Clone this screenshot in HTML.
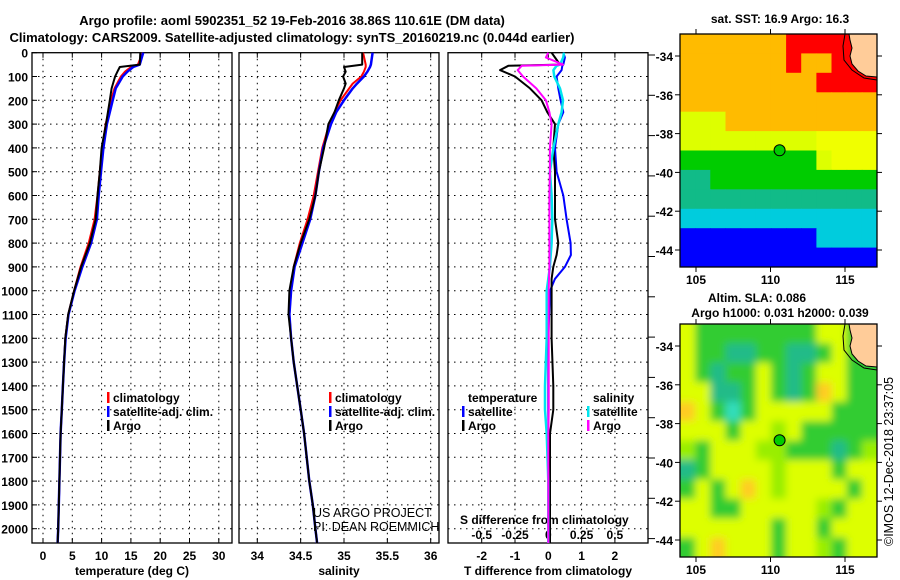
<!DOCTYPE html>
<html><head><meta charset="utf-8"><style>
html,body{margin:0;padding:0;background:#fff;}
svg{display:block;font-family:"Liberation Sans",sans-serif;}
.b{font-weight:bold;font-size:12px;}
.t{font-weight:bold;font-size:13px;}
</style></head><body>
<svg id="s" width="900" height="580" viewBox="0 0 900 580" xmlns="http://www.w3.org/2000/svg">
<text x="292" y="25" text-anchor="middle" class="t">Argo profile: aoml 5902351_52 19-Feb-2016 38.86S 110.61E (DM data)</text>
<text x="292" y="42" text-anchor="middle" class="t">Climatology: CARS2009. Satellite-adjusted climatology: synTS_20160219.nc (0.044d earlier)</text>
<g id="g"></g>
</svg>
<script>
// ---- data ----
const tDepth=[0,50,60,80,100,150,200,300,400,500,600,700,800,900,1000,1100,1200,1300,1400,1500,1600,1700,1800,1900,2000,2060];
const tArgo=[16.6,16.5,13.1,12.7,12.3,11.7,11.4,10.75,10.0,9.7,9.3,9.0,8.0,6.5,5.3,4.3,3.8,3.6,3.4,3.2,3.0,2.9,2.8,2.7,2.6,2.5];
const tClim=[17.0,16.2,15.0,14.0,13.3,12.2,11.6,10.7,10.1,9.7,9.3,8.8,7.8,6.4,5.3,4.3,3.8,3.6,3.4,3.2,3.0,2.9,2.8,2.7,2.6,2.5];
const tSat=[17.1,16.5,15.4,14.4,13.6,12.4,11.9,10.9,10.3,9.9,9.5,9.2,8.2,6.7,5.4,4.35,3.85,3.6,3.4,3.2,3.0,2.9,2.8,2.7,2.6,2.5];
const sDepth=[0,50,60,80,100,130,150,200,250,300,400,500,600,700,800,900,1000,1100,1200,1300,1400,1500,1600,1700,1800,1900,2000,2060];
const sArgo=[35.21,35.21,35.0,35.02,34.99,35.02,35.0,34.94,34.89,34.82,34.77,34.71,34.67,34.60,34.50,34.42,34.37,34.36,34.39,34.42,34.46,34.50,34.54,34.57,34.60,34.64,34.67,34.69];
const sClim=[35.22,35.25,35.25,35.23,35.2,35.1,35.06,34.96,34.89,34.83,34.75,34.70,34.65,34.58,34.49,34.42,34.39,34.37,34.39,34.42,34.46,34.50,34.54,34.57,34.60,34.64,34.67,34.69];
const sSat=[35.33,35.31,35.30,35.27,35.23,35.15,35.10,35.0,34.91,34.85,34.76,34.71,34.67,34.61,34.52,34.43,34.39,34.37,34.39,34.42,34.46,34.50,34.54,34.57,34.60,34.64,34.67,34.69];
const dDepth=[0,20,50,55,73,100,150,200,250,300,400,500,600,700,800,850,900,950,1000,1200,1400,1500,1600,1800,2060];
const dTArgo=[0.1,0.2,0.35,-1.2,-1.45,-1.0,-0.55,-0.2,-0.03,0.2,0.15,0.2,0.2,0.2,0.3,0.25,0.15,0.1,0.1,0.1,0.15,0.15,0.05,0.05,0.05];
const dTSat=[0.45,0.5,0.45,0.42,0.4,0.25,0.3,0.37,0.45,0.3,0.2,0.25,0.45,0.55,0.67,0.68,0.5,0.2,0.05,0.0,0.0,0.0,0.0,0.0,0.0];
const dSArgo=[0,-0.018,0.11,-0.2,-0.23,-0.19,-0.09,-0.018,0.008,0.025,0.012,0.012,0.008,0.008,0.008,0.008,0.008,0.005,0.003,0.003,0.003,0.003,0.0,0.0,0.0];
const dSSat=[0.118,0.112,0.088,0.062,0.038,0.045,0.088,0.11,0.1,0.075,0.038,0.012,0.025,0.03,0.025,0.018,0.012,0,-0.012,-0.012,-0.025,-0.025,-0.012,0,0];
const depthTicks=[0,100,200,300,400,500,600,700,800,900,1000,1100,1200,1300,1400,1500,1600,1700,1800,1900,2000];
const tTicks=[0,5,10,15,20,25,30];
const sTicks=[34,34.5,35,35.5,36];
const dTicks=[-2,-1,0,1,2];
const dSTicks=[-0.5,-0.25,0,0.25,0.5];
const dSTickLabels=["-0.5","-0.25","0","0.25","0.5"];
const lonTicks=[105,110,115];
const latTicks=[-34,-36,-38,-40,-42,-44];
const sstRows=["OOOOOOORRRRRL","OOOOOOOROORRL","OOOOOOOOORRRR","OOOOOOOOOOOOO","YYYOOOOOOOOOO","YYYYYYYYYyyyy","GGGGGGGGGYyyy","TTGGGGGGGGGGG","TTTTTTTTTTTTT","CCCCCCCCCCCCC","BBBBBBBBBCCCC","BBBBBBBBBBBBB"];
const slaRows=["YGGGGGGGGYYGG","YGGTTGGTTGYGG","YGTGGYGTGYYGG","YYTTGYGTGOYGG","OYGCGYYYYYGGG","YYYGYYlYGGGGG","lGYYYllGGGTGl","TGYYYYlYYYGYY","GYGYOYlYYYYGY","YYGGYYYYYlGYY","YYYYYYGYYGYYY","GYOYYYGYYlGYY"];
const argoLon=110.61, argoLat=-38.86;

const NS="http://www.w3.org/2000/svg", G=document.getElementById('g');
function el(tag,attrs,parent,txt){const e=document.createElementNS(NS,tag);for(const k in attrs)e.setAttribute(k,attrs[k]);if(txt!=null)e.textContent=txt;(parent||G).appendChild(e);return e;}
const yD=d=>52.7+d*0.238;
const PT=52.7, PB=543;
const panels=[
 {x0:32,x1:232,f:v=>43+v*5.86,ticks:tTicks,labels:tTicks.map(String),name:'temperature-panel',xl:'temperature (deg C)'},
 {x0:239,x1:439,f:v=>257.3+(v-34)*86.7,ticks:sTicks,labels:sTicks.map(String),name:'salinity-panel',xl:'salinity'},
 {x0:448,x1:648,f:v=>548.3+v*33.3,ticks:dTicks,labels:dTicks.map(String),name:'difference-panel',xl:'T difference from climatology'}];
panels.forEach((p,pi)=>{
  const g=el('g',{});
  
  
  depthTicks.forEach(d=>{if(d>0){const l=el('line',{x1:p.x0,x2:p.x1,y1:yD(d),y2:yD(d),stroke:'#000','stroke-width':1,'stroke-dasharray':'1.5,4.5'},g);}});
  p.ticks.forEach((v,i)=>{const x=p.f(v);
    const l=el('line',{x1:x,x2:x,y1:PT,y2:PB,stroke:'#000','stroke-width':1,'stroke-dasharray':'1.5,4.5'},g);
    el('line',{x1:x,x2:x,y1:PT,y2:PT+5,stroke:'#000'},g);el('line',{x1:x,x2:x,y1:PB,y2:PB-5,stroke:'#000'},g);
    const t=el('text',{x:x,y:PB+17,'text-anchor':'middle',class:'b'},g,p.labels[i]);});
  const fr=el('rect',{x:p.x0,y:PT,width:p.x1-p.x0,height:PB-PT,fill:'none',stroke:'#000','stroke-width':1.3},g);
  
  const xt=el('text',{x:(p.x0+p.x1)/2,y:575,'text-anchor':'middle',class:'b'},g,p.xl);
  
});
depthTicks.forEach(d=>{const t=el('text',{x:28,y:yD(d)+5,'text-anchor':'end',class:'b'},G,String(d));
  el('line',{x1:32,x2:37,y1:yD(d),y2:yD(d),stroke:'#000'});});
for(let i=0;i<13;i++){const y=55+i*40.3;el('line',{x1:648,x2:655,y1:y,y2:y,stroke:'#000'});}
dSTicks.forEach((v,i)=>{const t=el('text',{x:548.3+v*4*33.3,y:539,'text-anchor':'middle',class:'b'},G,dSTickLabels[i]);});
{const t=el('text',{x:460,y:524,class:'b'},G,'S difference from climatology');}
function line(depths,vals,f,color,name,w){const pts=depths.map((d,i)=>f(vals[i]).toFixed(1)+','+yD(d).toFixed(1)).join(' ');
  const l=el('polyline',{points:pts,fill:'none',stroke:color,'stroke-width':w||2,'stroke-linejoin':'round'});}
const P=panels;
line(tDepth,tClim,P[0].f,'#ff0000','temperature-climatology-line',2);
line(tDepth,tSat,P[0].f,'#0000ff','temperature-satellite-line',2.5);
line(tDepth,tArgo,P[0].f,'#000','temperature-argo-line',2);
line(sDepth,sClim,P[1].f,'#ff0000','salinity-climatology-line',2);
line(sDepth,sSat,P[1].f,'#0000ff','salinity-satellite-line',2.5);
line(sDepth,sArgo,P[1].f,'#000','salinity-argo-line',2);
line(dDepth,dTSat,P[2].f,'#0000ff','t-diff-satellite-line',2);
line(dDepth,dTArgo,P[2].f,'#000','t-diff-argo-line',2);
line(dDepth,dSSat,v=>P[2].f(v*4),'#00e5ee','s-diff-satellite-line',2.5);
line(dDepth,dSArgo,v=>P[2].f(v*4),'#ff00ff','s-diff-argo-line',2);
function leg(x,y,color,txt,name){const g=el('g',{});
  if(color)el('rect',{x:x-6,y:y-10,width:2.5,height:11,fill:color},g);el('text',{x:x,y:y,class:'b'},g,txt);}
leg(113,402,'#ff0000','climatology','legend-climatology');leg(113,416,'#0000ff','satellite-adj. clim.','legend-satellite-adj');leg(113,430,'#000','Argo','legend-argo');
leg(335,402,'#ff0000','climatology','legend-climatology-2');leg(335,416,'#0000ff','satellite-adj. clim.','legend-satellite-adj-2');leg(335,430,'#000','Argo','legend-argo-2');
leg(468,402,null,'temperature','legend-temperature-header');leg(468,416,'#0000ff','satellite','legend-t-satellite');leg(468,430,'#000','Argo','legend-t-argo');
leg(593,402,null,'salinity','legend-salinity-header');leg(593,416,'#00e5ee','satellite','legend-s-satellite');leg(593,430,'#ff00ff','Argo','legend-s-argo');
{const t=el('text',{x:313,y:517,'font-size':'12.5'},G,'US ARGO PROJECT');
 const t2=el('text',{x:313,y:531,'font-size':'12.5'},G,'PI: DEAN ROEMMICH');}
// ---- maps ----
const defs=el('defs',{});
const sstPal={O:'#ffbb00',R:'#ff0000',Y:'#ddff00',y:'#f0ff00',G:'#00cc00',T:'#11bb88',C:'#00ccdd',B:'#0000ff',L:'#ffcc99'};
const slaPal={l:'#99ee00',G:'#33cc33',T:'#22bb88',C:'#33ddbb',Y:'#ddff00',O:'#ffcc22',L:'#ffcc99'};
function map(top,rows,pal,name,blur){
  const L=680,R=877,B=top+233;
  const lx=v=>696+(v-105)*14.9, ly=v=>top+22+(-34-v)*19.4;
  const cp=el('clipPath',{id:'c'+name},defs);el('rect',{x:L,y:top,width:R-L,height:B-top},cp);
  const g=el('g',{'clip-path':'url(#c'+name+')'});
  el('rect',{x:L,y:top,width:R-L,height:B-top,fill:blur?'#bbf000':'#ffbb00'},g);
  if(blur){const f=el('filter',{id:'f'+name,x:'-20%',y:'-20%',width:'140%',height:'140%'},defs);el('feGaussianBlur',{stdDeviation:4},f);}
  const cg=el('g',blur?{filter:'url(#f'+name+')'}:{},g);
  const cw=(R-L)/13,ch=(B-top)/12;
  rows.forEach((r,i)=>{for(let j=0;j<r.length;j++){const c=pal[r[j]];
    const x0=L+j*cw-(blur&&j==0?12:0), x1=L+(j+1)*cw+(blur&&j==12?12:0);
    const y0=top+i*ch-(blur&&i==0?12:0), y1=top+(i+1)*ch+(blur&&i==11?12:0);
    const rc=el('rect',{x:x0.toFixed(1),y:y0.toFixed(1),width:(x1-x0+0.5).toFixed(1),height:(y1-y0+0.5).toFixed(1),fill:c},cg);
    }});
  const land='849,'+top+' 877,'+top+' 877,'+(top+43)+' 866,'+(top+42)+' 858,'+(top+37)+' 852,'+(top+30)+' 850,'+(top+22)+' 852,'+(top+14)+' 850,'+(top+6);
  const lp=el('polygon',{points:land,fill:'#ffcc99',stroke:'#000','stroke-width':1},g);
  el('polyline',{points:'845,'+top+' 843,'+(top+12)+' 844,'+(top+26)+' 852,'+(top+36)+' 864,'+(top+44)+' 877,'+(top+46),fill:'none',stroke:'#000','stroke-width':1},g);
  const ci=el('circle',{cx:lx(argoLon),cy:ly(argoLat),r:5.5,fill:'#00cc00',stroke:'#000','stroke-width':1});
  el('rect',{x:L,y:top,width:R-L,height:B-top,fill:'none',stroke:'#000','stroke-width':1.3});
  lonTicks.forEach(v=>{el('line',{x1:lx(v),x2:lx(v),y1:B,y2:B+5,stroke:'#000'});el('line',{x1:lx(v),x2:lx(v),y1:top,y2:top-5,stroke:'#000'});
    const t=el('text',{x:lx(v),y:B+17,'text-anchor':'middle',class:'b'},G,String(v));});
  latTicks.forEach(v=>{el('line',{x1:L,x2:L-5,y1:ly(v),y2:ly(v),stroke:'#000'});el('line',{x1:R,x2:R+5,y1:ly(v),y2:ly(v),stroke:'#000'});
    const t=el('text',{x:673,y:ly(v)+5,'text-anchor':'end',class:'b'},G,String(v));});
}
map(34,sstRows,sstPal,'sst-map',false);
map(324,slaRows,slaPal,'sla-map',true);
{const a=el('text',{x:780,y:23,'text-anchor':'middle',class:'b'},G,'sat. SST: 16.9 Argo: 16.3');
 const b=el('text',{x:757,y:302,'text-anchor':'middle',class:'b'},G,'Altim. SLA: 0.086');
 const c=el('text',{x:780,y:317,'text-anchor':'middle',class:'b'},G,'Argo h1000: 0.031 h2000: 0.039');
 const d=el('text',{x:0,y:0,'font-size':'12.5',transform:'translate(893,546) rotate(-90)'},G,'©IMOS 12-Dec-2018 23:37:05');}
</script>
</body></html>
